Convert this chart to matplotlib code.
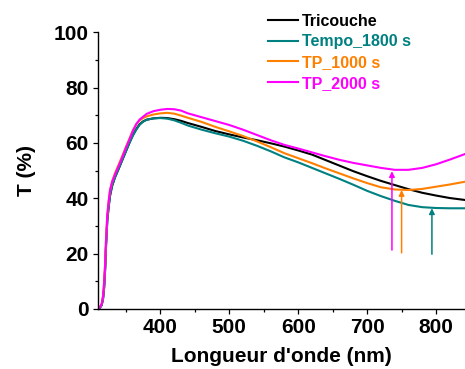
import matplotlib
matplotlib.use("Agg")
import matplotlib.pyplot as plt
from matplotlib.ticker import MultipleLocator

plt.rcParams['font.family'] = ['Liberation Sans', 'DejaVu Sans']
plt.rcParams['font.weight'] = 'bold'

# wavelength (nm)
wl = [310, 312, 315, 317, 318.5, 320, 321, 322, 323, 325, 327, 330, 334, 340,
      345, 350, 355, 360, 365, 370, 375, 380, 390, 400, 410, 420, 430, 440,
      460, 480, 500, 520, 540, 560, 580, 600, 620, 640, 660, 680, 700, 720,
      740, 760, 780, 800, 820, 842]

tricouche = [0, 0.3, 1.5, 4, 8, 15, 22, 27, 32, 37, 41, 44.5, 47.5, 51,
             54, 57, 60, 62.8, 65.0, 66.8, 67.8, 68.4, 68.9, 69.1, 69.0, 68.6, 68.0, 67.2,
             65.8, 64.3, 63.1, 62.0, 61.0, 59.9, 58.7, 57.3, 55.8, 53.8, 51.8, 49.8, 48.0, 46.3,
             44.8, 43.3, 42.0, 41.0, 40.1, 39.4]

tempo_1800 = [0, 0.3, 1.5, 4, 8, 15, 22, 27, 32, 37, 41, 44.5, 47.5, 51,
              54, 57, 60, 62.6, 64.8, 66.6, 67.7, 68.4, 68.9, 69.0, 68.8, 68.2, 67.3, 66.3,
              64.8, 63.5, 62.3, 60.8, 59.0, 57.0, 54.8, 53.0, 51.0, 49.0, 47.0, 44.9, 42.7, 40.8,
              39.1, 37.6, 36.8, 36.5, 36.4, 36.4]

tp_1000 = [0, 0.5, 2, 5, 10, 17, 24, 29, 34, 39, 43, 46, 49, 52.5,
           55.5, 58.5, 61.5, 64.5, 66.8, 68.2, 69.0, 69.6, 70.3, 70.7, 70.9, 70.6, 69.9, 69.1,
           67.6, 65.8, 64.2, 62.5, 60.6, 58.5, 56.3, 54.5, 52.7, 50.8, 49.0, 47.2, 45.5, 44.0,
           43.2, 43.0, 43.4, 44.2, 45.0, 46.0]

tp_2000 = [0, 0.5, 2, 5, 10, 17, 24, 29, 34, 39, 43, 46, 48.5, 52,
           55, 58.3, 61.2, 64.3, 66.8, 68.5, 69.5, 70.5, 71.5, 72.0, 72.3, 72.2, 71.7, 70.7,
           69.3, 67.9, 66.5, 64.8, 62.9, 61.0, 59.3, 58.0, 56.6, 55.2, 53.9, 52.8, 51.9, 51.0,
           50.3, 50.3, 51.0, 52.3, 54.0, 56.0]

labels = ['Tricouche', 'Tempo_1800 s', 'TP_1000 s', 'TP_2000 s']
colors = ['#000000', '#008080', '#FF8000', '#FF00FF']

# arrows marking the transmission minima (TP_2000, TP_1000, Tempo_1800)
arrow_x = [736, 750, 794]
arrow_top = [49.8, 43.0, 36.4]
arrow_bottom = [21.3, 20.3, 19.8]
arrow_colors = ['#FF00FF', '#FF8000', '#008080']

fig = plt.figure(figsize=(4.65, 3.69), dpi=100)
ax = fig.add_axes([98 / 465, 1 - 309 / 369, 367 / 465, 276.7 / 369])

for ys, lab, c in zip([tricouche, tempo_1800, tp_1000, tp_2000], labels, colors):
    ax.plot(wl, ys, color=c, lw=1.5, label=lab)

for x, y1, y0, c in zip(arrow_x, arrow_top, arrow_bottom, arrow_colors):
    ax.annotate('', xy=(x, y1), xytext=(x, y0),
                arrowprops=dict(arrowstyle='-|>', color=c, lw=1.1,
                                mutation_scale=8, shrinkA=0, shrinkB=0))

ax.set_xlim(309.5, 842)
ax.set_ylim(0, 100)
ax.xaxis.set_major_locator(MultipleLocator(100))
ax.xaxis.set_minor_locator(MultipleLocator(50))
ax.yaxis.set_major_locator(MultipleLocator(20))
ax.yaxis.set_minor_locator(MultipleLocator(10))
ax.spines['top'].set_visible(False)
ax.spines['right'].set_visible(False)
for s in ['left', 'bottom']:
    ax.spines[s].set_linewidth(1.0)
ax.tick_params(which='major', direction='out', length=3.6, width=0.9,
               labelsize=15, pad=3)
ax.tick_params(which='minor', direction='out', length=2, width=0.9)

ax.set_xlabel("Longueur d'onde (nm)", fontsize=15, fontweight='bold', labelpad=7)
ax.set_ylabel("T (%)", fontsize=15, fontweight='bold', labelpad=13)

leg = fig.legend(loc='upper left', bbox_to_anchor=(268 / 465, 1 - 13.5 / 369),
                 frameon=False, fontsize=11.5, handlelength=1.88,
                 handletextpad=0.25, labelspacing=0.36, borderpad=0,
                 borderaxespad=0)
for t, c in zip(leg.get_texts(), colors):
    t.set_color(c)
    t.set_fontweight('bold')

fig.savefig('out.png', dpi=100)
